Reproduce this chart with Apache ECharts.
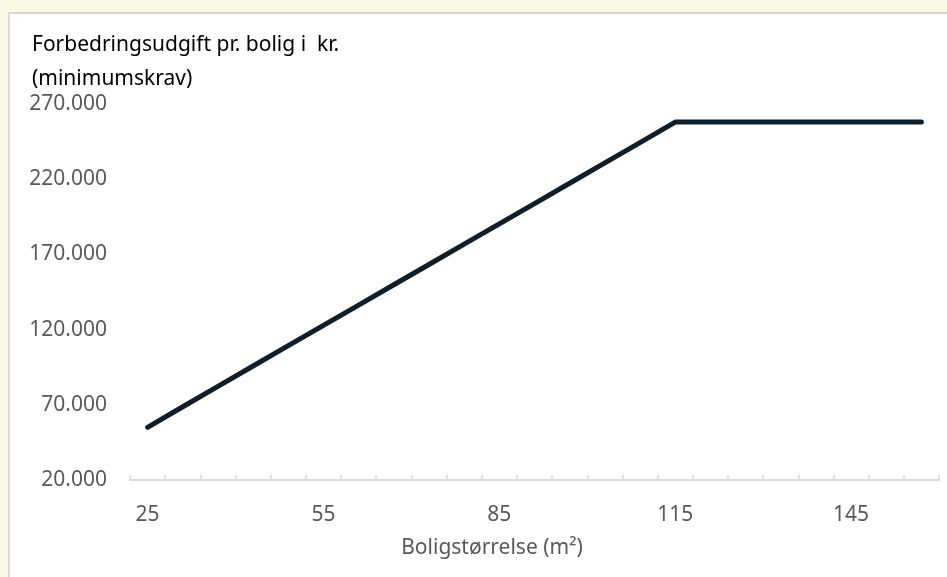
<!DOCTYPE html>
<html>
<head>
<meta charset="utf-8">
<script src="https://cdn.jsdelivr.net/npm/echarts@6/dist/echarts.min.js"></script>
<style>
  html, body { margin: 0; padding: 0; width: 947px; height: 577px; background: #f8f8e3; overflow: hidden; }
  #chart { position: absolute; left: 8px; top: 12px; width: 937px; height: 563px; background: #fff;
           border-left: 2px solid #d9d9d9; border-top: 2px solid #d9d9d9; }
</style>
</head>
<body>
<div id="chart"></div>
<script>
// boligstørrelse i m² (kategorier, hver 6. m²)
const sizes = ['25', '31', '37', '43', '49', '55', '61', '67', '73', '79', '85', '91',
  '97', '103', '109', '115', '121', '127', '133', '139', '145', '151', '157']
// forbedringsudgift pr. bolig (minimumskrav), kr.
const minCost = [55000, 68700, 82300, 95800, 109300, 122800, 136300, 149800, 163300,
  176800, 190300, 203800, 217300, 230800, 244300, 258000, 258000, 258000, 258000,
  258000, 258000, 258000, 258000]
const yTitle = 'Forbedringsudgift pr. bolig i  kr.\n(minimumskrav)'
const xTitle = 'Boligstørrelse (m²)'

const font = 'Noto Sans'
const chart = echarts.init(document.getElementById('chart'))

chart.setOption({
  animation: false,
  backgroundColor: '#fff',
  title: {
    text: yTitle,
    left: 22,
    top: 14,
    padding: 0,
    textStyle: { fontFamily: font, fontSize: 21, fontWeight: 'normal', color: '#000', lineHeight: 34 },
  },
  graphic: [{
    type: 'text',
    x: 482,
    y: 534,
    style: { text: xTitle, fontFamily: font, fontSize: 21, fill: '#595959', align: 'center', verticalAlign: 'middle' },
  }],
  grid: { left: 120, right: 8, top: 90, bottom: 97 },
  xAxis: {
    type: 'category',
    data: sizes,
    boundaryGap: true,
    axisLine: { lineStyle: { color: '#d9d9d9', width: 2 } },
    axisTick: { show: true, inside: true, length: 5, interval: 0, lineStyle: { color: '#d9d9d9', width: 1.5 } },
    axisLabel: { interval: 4, margin: 25, color: '#595959', fontFamily: font, fontSize: 21 },
  },
  yAxis: {
    type: 'value',
    min: 20000,
    max: 270000,
    interval: 50000,
    axisLine: { show: false },
    axisTick: { show: false },
    splitLine: { show: false },
    axisLabel: {
      margin: 23,
      color: '#595959',
      fontFamily: font,
      fontSize: 21,
      formatter: v => v.toLocaleString('da-DK').replace(/,/g, '.'),
    },
  },
  series: [{
    type: 'line',
    data: minCost,
    showSymbol: false,
    lineStyle: { color: '#0e1e2b', width: 5, cap: 'round', join: 'round' },
  }],
})
</script>
</body>
</html>
